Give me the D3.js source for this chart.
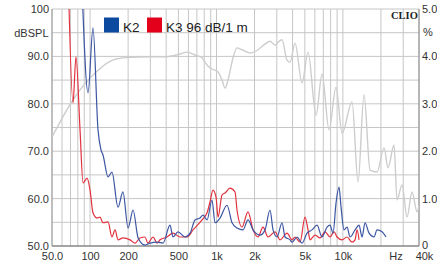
<!DOCTYPE html>
<html>
<head>
<meta charset="utf-8">
<script src="https://cdn.jsdelivr.net/npm/d3@7"></script>
<style>
    html, body { margin: 0; padding: 0; background: #fff; }
    svg { display: block; font-family: "Liberation Sans", Arial, sans-serif; }
    .grid line { stroke: #c6c6c6; stroke-width: 1; }
    .axis text { fill: #333; font-size: 11px; }
    .axis path { display: none; }
</style>
</head>
<body>
<svg id="chart" width="437" height="261"></svg>
<script>
// SPL response (grey, left axis, dB)
const splFreq = [50, 58, 69, 83, 100, 114, 136, 163, 207, 298, 392, 515, 585, 677, 769, 842, 889, 1029, 1107, 1169, 1234, 1352, 1454, 1593, 1843, 2131, 2422, 2652, 2905, 3069, 3300, 3616, 3819, 4183, 4751, 5300, 6131, 6840, 7771, 8828, 9848, 11816, 13180, 14698, 16400, 18628, 21166, 22760, 25385, 26810, 29373, 32176, 35250, 38612, 40000]
const splDb = [73.0, 76.2, 79.7, 82.9, 85.4, 86.9, 88.6, 89.5, 89.8, 89.9, 89.9, 90.5, 90.9, 90.3, 89.7, 88.2, 87.6, 86.7, 85.0, 83.3, 85.0, 89.7, 91.8, 91.4, 90.7, 91.4, 92.6, 93.2, 92.4, 93.0, 93.5, 89.2, 88.8, 92.8, 84.4, 90.9, 77.6, 86.3, 74.5, 83.5, 73.8, 80.4, 63.5, 81.9, 66.0, 65.6, 70.7, 66.5, 71.3, 59.7, 62.9, 56.1, 61.4, 57.2, 58.6]

// K2 distortion (blue, right axis, %)
const k2Freq = [86, 96.4, 105.5, 115.6, 122, 126.6, 138.7, 149, 166.4, 182, 200, 219, 240, 272, 298, 339, 378, 429, 453, 496, 564, 618, 677, 741, 783, 842, 922, 974, 1067, 1212, 1328, 1454, 1622, 1776, 1947, 2211, 2422, 2652, 2802, 3013, 3300, 3487, 3819, 3960, 4338, 4751, 5205, 5701, 6243, 6840, 7492, 7913, 8359, 8828, 9324, 9669, 10213, 10788, 11395, 12481, 13422, 14175, 14968, 16100, 17635, 18628, 20410, 21948]
const k2Pct = [5.6, 3.23, 4.60, 2.45, 2.03, 1.92, 1.46, 1.56, 0.82, 1.14, 0.38, 0.76, 0.17, 0.02, 0.06, 0.08, 0.06, 0.44, 0.19, 0.30, 0.19, 0.27, 0.55, 0.59, 0.65, 0.55, 0.97, 0.49, 0.59, 0.86, 0.49, 0.38, 0.34, 0.55, 0.34, 0.23, 0.34, 0.76, 0.34, 0.19, 0.49, 0.19, 0.13, 0.08, 0.19, 0.06, 0.27, 0.34, 0.44, 0.19, 0.40, 0.44, 0.27, 0.91, 1.24, 0.82, 0.34, 0.40, 0.19, 0.34, 0.44, 0.19, 0.49, 0.27, 0.19, 0.34, 0.30, 0.19]

// K3 distortion (red, right axis, %)
const k3Freq = [67.3, 73.3, 77.4, 83.3, 88, 94.6, 100, 105.5, 113.5, 119.9, 126.6, 138.7, 149, 157.6, 166.4, 182, 207, 227, 248, 272, 287, 315, 339, 358, 406, 453, 515, 585, 653, 769, 842, 889, 939, 992, 1029, 1107, 1169, 1280, 1402, 1454, 1593, 1776, 1947, 2131, 2335, 2558, 2905, 3183, 3616, 3960, 4183, 4581, 5018, 5300, 5497, 6020, 6596, 7225, 7913, 8511, 8989, 9848, 10788, 11816, 12481, 12942, 13422]
const k3Pct = [5.6, 3.02, 3.99, 2.45, 1.33, 1.43, 1.18, 0.70, 0.59, 0.61, 0.49, 0.51, 0.19, 0.34, 0.13, 0.17, 0.13, 0.06, 0.17, 0.19, 0.06, 0.19, 0.06, 0.13, 0.19, 0.27, 0.19, 0.19, 0.34, 0.55, 0.70, 0.93, 1.18, 1.03, 0.61, 1.08, 1.12, 1.22, 1.14, 0.76, 0.40, 0.72, 0.34, 0.19, 0.40, 0.19, 0.30, 0.13, 0.27, 0.13, 0.19, 0.08, 0.61, 0.34, 0.13, 0.23, 0.17, 0.30, 0.19, 0.30, 0.19, 0.13, 0.19, 0.08, 0.13, 0.34, 0.13]

const freqGrid = [50, 60, 70, 80, 90, 100, 200, 300, 400, 500, 600, 700, 800, 900, 1000, 2000, 3000, 4000, 5000, 6000, 7000, 8000, 9000, 10000, 20000, 30000, 40000]
const freqTicks = [50, 100, 200, 500, 1000, 2000, 5000, 10000, 40000]
const freqLabels = ['50.0', '100', '200', '500', '1k', '2k', '5k', '10k', '40k']
const dbTicks = [100, 90, 80, 70, 60, 50]
const dbLabels = ['100', '90.0', '80.0', '70.0', '60.0', '50.0']
const pctTicks = [5, 4, 3, 2, 1, 0]
const pctLabels = ['5.0', '4.0', '3.0', '2.0', '1.0', '0']

const plotLeft = 52, plotRight = 419, plotTop = 9, plotBottom = 246

const svg = d3.select('#chart')
const x = d3.scaleLog().domain([50, 40000]).range([plotLeft, plotRight])
const yDb = d3.scaleLinear().domain([50, 100]).range([plotBottom, plotTop])
const yPct = d3.scaleLinear().domain([0, 5]).range([plotBottom, plotTop])

svg.append('defs').append('clipPath').attr('id', 'plot-clip')
    .append('rect').attr('x', plotLeft).attr('y', plotTop)
    .attr('width', plotRight - plotLeft).attr('height', plotBottom - plotTop)

// grid
const grid = svg.append('g').attr('class', 'grid')
grid.selectAll('line.v').data(freqGrid).join('line')
    .attr('class', 'v')
    .attr('x1', d => x(d)).attr('x2', d => x(d))
    .attr('y1', plotTop).attr('y2', plotBottom)
grid.selectAll('line.h').data(d3.range(50, 101, 5)).join('line')
    .attr('class', 'h')
    .attr('x1', plotLeft).attr('x2', plotRight)
    .attr('y1', d => yDb(d)).attr('y2', d => yDb(d))

// frame
svg.append('line').attr('x1', plotLeft).attr('x2', plotRight).attr('y1', plotBottom).attr('y2', plotBottom)
    .attr('stroke', '#666').attr('stroke-width', 1.2)
svg.append('line').attr('x1', plotRight).attr('x2', plotRight).attr('y1', plotTop).attr('y2', plotBottom)
    .attr('stroke', '#888').attr('stroke-width', 1)
svg.append('line').attr('x1', plotLeft).attr('x2', plotLeft).attr('y1', plotTop).attr('y2', plotBottom)
    .attr('stroke', '#999').attr('stroke-width', 1)

// curves
const plot = svg.append('g').attr('clip-path', 'url(#plot-clip)')
const lineDb = d3.line().x(d => x(d[0])).y(d => yDb(d[1])).curve(d3.curveMonotoneX)
const linePct = d3.line().x(d => x(d[0])).y(d => yPct(d[1])).curve(d3.curveMonotoneX)

plot.append('path')
    .attr('d', lineDb(d3.zip(splFreq, splDb)))
    .attr('fill', 'none').attr('stroke', '#cdcdcd').attr('stroke-width', 1.4)
plot.append('path')
    .attr('d', linePct(d3.zip(k3Freq, k3Pct)))
    .attr('fill', 'none').attr('stroke', '#e2323f').attr('stroke-width', 1.2)
plot.append('path')
    .attr('d', linePct(d3.zip(k2Freq, k2Pct)))
    .attr('fill', 'none').attr('stroke', '#3c56a3').attr('stroke-width', 1.2)

// axes
const xAxis = svg.append('g').attr('class', 'axis')
    .attr('transform', `translate(0,${plotBottom})`)
    .call(d3.axisBottom(x).tickValues(freqTicks).tickSize(0).tickPadding(6.5)
        .tickFormat((d, i) => freqLabels[i]))
// the last label sits a little right of its grid line, as in the original
xAxis.selectAll('.tick text').filter(d => d === 40000).attr('dx', 5)

svg.append('g').attr('class', 'axis')
    .attr('transform', `translate(${plotLeft},0)`)
    .call(d3.axisLeft(yDb).tickValues(dbTicks).tickSize(0).tickPadding(3)
        .tickFormat((d, i) => dbLabels[i]))
const rightAxis = svg.append('g').attr('class', 'axis')
    .attr('transform', `translate(${plotRight},0)`)
    .call(d3.axisRight(yPct).tickValues(pctTicks).tickSize(0).tickPadding(3)
        .tickFormat((d, i) => pctLabels[i]))
rightAxis.selectAll('.tick text').filter(d => d === 0).attr('dy', '0.2em')

svg.append('text').attr('x', 396).attr('y', plotBottom + 6.5).attr('dy', '0.71em')
    .attr('text-anchor', 'middle').attr('font-size', 11).attr('fill', '#333').text('Hz')
svg.append('text').attr('x', 48.5).attr('y', 36.5)
    .attr('text-anchor', 'end').attr('font-size', 11).attr('fill', '#333').text('dBSPL')
svg.append('text').attr('x', 423).attr('y', 36)
    .attr('font-size', 11).attr('fill', '#333').text('%')
svg.append('text').attr('x', 391).attr('y', 18.5)
    .attr('font-family', '"Liberation Serif", "DejaVu Serif", serif')
    .attr('font-weight', 'bold').attr('font-size', 10.5).attr('fill', '#222').text('CLIO')

// legend
const legend = svg.append('g')
legend.append('rect').attr('x', 104).attr('y', 17.5).attr('width', 15).attr('height', 15).attr('fill', '#0b4a9e')
legend.append('text').attr('x', 123).attr('y', 32).attr('font-size', 13.5).attr('fill', '#222').text('K2')
legend.append('rect').attr('x', 147).attr('y', 17.5).attr('width', 15).attr('height', 15).attr('fill', '#e3001b')
legend.append('text').attr('x', 166).attr('y', 32).attr('font-size', 13.5).attr('fill', '#222').text('K3 96 dB/1 m')
</script>
</body>
</html>
